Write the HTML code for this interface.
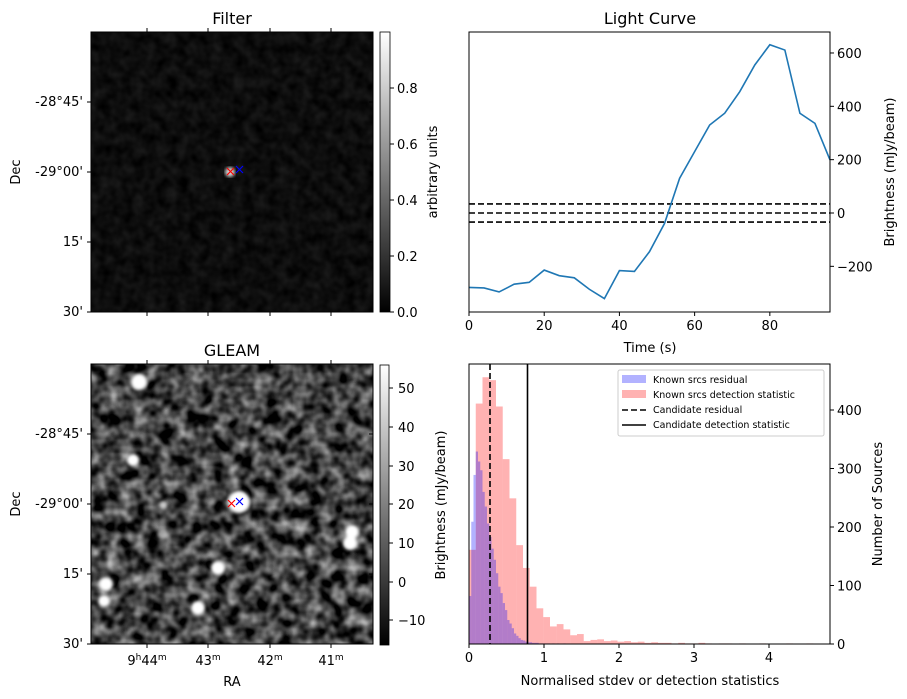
<!DOCTYPE html>
<html><head><meta charset="utf-8"><style>
body{margin:0;background:#fff}
svg{display:block;font-family:"DejaVu Sans","Liberation Sans",sans-serif}
</style></head><body>
<svg id="fig" width="907" height="699" viewBox="0 0 907 699">
<defs>
<filter id="noiseG" x="0" y="0" width="100%" height="100%" color-interpolation-filters="sRGB">
<feTurbulence type="fractalNoise" baseFrequency="0.075" numOctaves="2" seed="7"/>
<feColorMatrix type="matrix" values="1.25 0 0 0 -0.37  1.25 0 0 0 -0.37  1.25 0 0 0 -0.37  0 0 0 0 1"/>
</filter>
<filter id="noiseF" x="0" y="0" width="100%" height="100%" color-interpolation-filters="sRGB">
<feTurbulence type="fractalNoise" baseFrequency="0.09" numOctaves="2" seed="3"/>
<feColorMatrix type="matrix" values="0.15 0 0 0 -0.025  0.15 0 0 0 -0.025  0.15 0 0 0 -0.025  0 0 0 0 1"/>
</filter>
<filter id="blur2"><feGaussianBlur stdDeviation="1.5"/></filter>
<linearGradient id="cbg" x1="0" y1="1" x2="0" y2="0"><stop offset="0" stop-color="#000"/><stop offset="1" stop-color="#fff"/></linearGradient>
</defs>

<g>
<text x="232" y="24" font-size="16" text-anchor="middle">Filter</text>
<rect x="91" y="32" width="282" height="280" fill="#000" filter="url(#noiseF)"/>
<circle cx="230" cy="172" r="5" fill="#fff" filter="url(#blur2)" opacity="0.8"/>
<g stroke-width="1.2"><path d="M227 168l7 7M234 168l-7 7" stroke="#f00"/><path d="M236 166l7 7M243 166l-7 7" stroke="#00f"/></g>
<rect x="91" y="32" width="282" height="280" fill="none" stroke="#000"/>
<g font-size="13" text-anchor="end">
<text x="83" y="106">-28°45'</text><text x="83" y="176">-29°00'</text><text x="83" y="246">15'</text><text x="83" y="316">30'</text>
</g>
<g stroke="#000"><path d="M87 102h4M87 172h4M87 242h4M87 312h4M373 102h-4M373 172h-4M373 242h-4M147 32v-4M208 32v-4M270 32v-4M331 32v-4M147 312v4M208 312v4M270 312v4M331 312v4"/></g>
<text x="20" y="172" font-size="13" text-anchor="middle" transform="rotate(-90 20 172)">Dec</text>
<rect x="380" y="32" width="10" height="280" fill="url(#cbg)" stroke="#000" stroke-width="0.8"/>
<g font-size="13">
<path d="M390 312h4M390 256h4M390 200h4M390 144h4M390 88h4" stroke="#000"/>
<text x="397" y="317">0.0</text><text x="397" y="261">0.2</text><text x="397" y="205">0.4</text><text x="397" y="149">0.6</text><text x="397" y="93">0.8</text>
</g>
<text x="437" y="172" font-size="13" text-anchor="middle" transform="rotate(-90 437 172)">arbitrary units</text>
</g>

<g>
<text x="232" y="356" font-size="16" text-anchor="middle">GLEAM</text>
<rect x="91" y="364" width="282" height="280" fill="#000" filter="url(#noiseG)"/>
<g fill="#fff" filter="url(#blur2)">
<circle cx="139" cy="382" r="8"/><circle cx="201" cy="370" r="3" opacity="0.5"/><circle cx="133" cy="460" r="6"/><circle cx="163" cy="505" r="4" opacity="0.7"/><circle cx="239" cy="502" r="11"/><circle cx="163" cy="534" r="5" opacity="0.5"/><circle cx="218" cy="568" r="7"/><circle cx="106" cy="584" r="7"/><circle cx="104" cy="601" r="6"/><circle cx="198" cy="608" r="7"/><circle cx="352" cy="532" r="7"/><circle cx="350" cy="543" r="7"/><circle cx="276" cy="575" r="4" opacity="0.5"/>
</g>
<g stroke-width="1.2"><path d="M228 500l7 7M235 500l-7 7" stroke="#f00"/><path d="M236 498l7 7M243 498l-7 7" stroke="#00f"/></g>
<rect x="91" y="364" width="282" height="280" fill="none" stroke="#000"/>
<g stroke="#000"><path d="M87 434h4M87 504h4M87 574h4M87 644h4M373 434h-4M373 504h-4M373 574h-4M147 364v-4M208 364v-4M270 364v-4M331 364v-4M147 644v4M208 644v4M270 644v4M331 644v4"/></g>
<g font-size="13" text-anchor="end">
<text x="83" y="438">-28°45'</text><text x="83" y="508">-29°00'</text><text x="83" y="578">15'</text><text x="83" y="648">30'</text>
</g>
<g font-size="13" text-anchor="middle">
<text x="147" y="665">9<tspan font-size="9" dy="-5">h</tspan><tspan dy="5">44</tspan><tspan font-size="9" dy="-5">m</tspan></text>
<text x="208" y="665">43<tspan font-size="9" dy="-5">m</tspan></text>
<text x="270" y="665">42<tspan font-size="9" dy="-5">m</tspan></text>
<text x="331" y="665">41<tspan font-size="9" dy="-5">m</tspan></text>
</g>
<text x="232" y="686" font-size="13" text-anchor="middle">RA</text>
<text x="20" y="504" font-size="13" text-anchor="middle" transform="rotate(-90 20 504)">Dec</text>
<rect x="380" y="365" width="9" height="280" fill="url(#cbg)" stroke="#000" stroke-width="0.8"/>
<g font-size="13">
<path d="M389 388h4M389 427h4M389 466h4M389 504h4M389 543h4M389 582h4M389 620h4" stroke="#000"/>
<text x="398" y="393">50</text><text x="398" y="432">40</text><text x="398" y="471">30</text><text x="398" y="509">20</text><text x="398" y="548">10</text><text x="398" y="587">0</text><text x="398" y="625">−10</text>
</g>
<text x="445" y="505" font-size="13" text-anchor="middle" transform="rotate(-90 445 505)">Brightness (mJy/beam)</text>
</g>

<g id="lc">
<text x="650" y="24" font-size="16" text-anchor="middle">Light Curve</text>
<text x="650" y="352" font-size="13" text-anchor="middle">Time (s)</text>
<text x="894" y="172" font-size="13" text-anchor="middle" transform="rotate(-90 894 172)">Brightness (mJy/beam)</text>
</g>

<g id="hist">
<text x="650" y="685" font-size="13" text-anchor="middle">Normalised stdev or detection statistics</text>
<text x="882" y="504" font-size="13" text-anchor="middle" transform="rotate(-90 882 504)">Number of Sources</text>
</g>
</svg>
<script>
const times = [0,4,8,12,16,20,24,28,32,36,40,44,48,52,56,60,64,68,72,76,80,84,88,92,96];
const brightness = [-279,-281,-296,-267,-260,-214,-235,-243,-286,-321,-216,-219,-145,-39,130,230,330,374,455,555,631,611,374,336,199];
const thresholds = [34,0,-34];
const lcXTicks = [0,20,40,60,80];
const lcYTicks = [-200,0,200,400,600];

const redCounts = [161,411,456,451,406,316,249,169,130,98,61,46,30,34,25,15,17,5,7,8,5,6,4,5,3,4,2,3,2,2,1,2,1,1,2,1,0,1,1,0,1,0,0,1,0,0,0,1,0,0,1];
const redWidth = [0.09];
const blueCounts = [82,209,289,329,312,297,260,235,206,183,163,144,121,98,87,70,58,41,35,27,18,14,10,7,6,4,3,3,2,2,2,1,1,1,1,1,0,1,0,1,0,0,1];
const blueWidth = [0.03];
const candidateValues = [0.28,0.78];
const histXTicks = [0,1,2,3,4];
const histYTicks = [0,100,200,300,400];

const NS='http://www.w3.org/2000/svg';
function mk(parent,tag,attrs){const e=document.createElementNS(NS,tag);for(const k in attrs)e.setAttribute(k,attrs[k]);parent.appendChild(e);return e;}

(function(){
const g=document.getElementById('lc');
const L=469,R=830,T=32,B=312;
const xs=t=>L+(t-0)/(96-0)*(R-L);
const ys=v=>213-v*0.2667;
for(const th of thresholds){
 const l=mk(g,'line',{x1:L,x2:R,y1:ys(th),y2:ys(th),stroke:'#000','stroke-width':1.6,'stroke-dasharray':'6,3'});
 
 
}
const p=mk(g,'polyline',{points:times.map((t,i)=>xs(t)+','+ys(brightness[i])).join(' '),fill:'none',stroke:'#1f77b4','stroke-width':1.6});


mk(g,'rect',{x:L,y:T,width:R-L,height:B-T,fill:'none',stroke:'#000'});
for(const t of lcXTicks){
 mk(g,'line',{x1:xs(t),x2:xs(t),y1:B,y2:B+4,stroke:'#000'});
 const tx=mk(g,'text',{x:xs(t),y:B+18,'font-size':13,'text-anchor':'middle'});tx.textContent=t;
 
 
}
for(const v of lcYTicks){
 mk(g,'line',{x1:R,x2:R+4,y1:ys(v),y2:ys(v),stroke:'#000'});
 const tx=mk(g,'text',{x:R+7,y:ys(v)+5,'font-size':13});tx.textContent=v<0?'−'+(-v):v;
 
 
}
})();

(function(){
const g=document.getElementById('hist');
const L=469,R=830,T=364,B=644;
const xs=v=>L+v*75;
const ys=c=>B-c*0.585;
redCounts.forEach((c,i)=>{if(!c)return;const x0=xs(i*redWidth[0]),x1=xs((i+1)*redWidth[0]);
 const r=mk(g,'rect',{x:x0,y:ys(c),width:x1-x0,height:B-ys(c),fill:'rgba(255,0,0,0.3)'});
 
 });
blueCounts.forEach((c,i)=>{if(!c)return;const x0=xs(i*blueWidth[0]),x1=xs((i+1)*blueWidth[0]);
 const r=mk(g,'rect',{x:x0,y:ys(c),width:x1-x0,height:B-ys(c),fill:'rgba(0,0,255,0.3)'});
 
 });
const d=mk(g,'line',{x1:xs(candidateValues[0]),x2:xs(candidateValues[0]),y1:T,y2:B,stroke:'#000','stroke-width':1.6,'stroke-dasharray':'6,3'});


const s=mk(g,'line',{x1:xs(candidateValues[1]),x2:xs(candidateValues[1]),y1:T,y2:B,stroke:'#000','stroke-width':1.6});


mk(g,'rect',{x:L,y:T,width:R-L,height:B-T,fill:'none',stroke:'#000'});
for(const t of histXTicks){
 mk(g,'line',{x1:xs(t),x2:xs(t),y1:B,y2:B+4,stroke:'#000'});
 const tx=mk(g,'text',{x:xs(t),y:B+18,'font-size':13,'text-anchor':'middle'});tx.textContent=t;
 
 
}
for(const v of histYTicks){
 mk(g,'line',{x1:R,x2:R+4,y1:ys(v),y2:ys(v),stroke:'#000'});
 const tx=mk(g,'text',{x:R+7,y:ys(v)+5,'font-size':13});tx.textContent=v;
 
 
}
const lg=mk(g,'g',{});


mk(lg,'rect',{x:618,y:370,width:206,height:66,fill:'#fff',stroke:'#ccc',rx:2});
mk(lg,'rect',{x:622,y:375,width:24,height:8,fill:'rgba(0,0,255,0.3)'});
mk(lg,'rect',{x:622,y:390,width:24,height:8,fill:'rgba(255,0,0,0.3)'});
mk(lg,'line',{x1:622,x2:646,y1:410,y2:410,stroke:'#000','stroke-width':1.6,'stroke-dasharray':'6,3'});
mk(lg,'line',{x1:622,x2:646,y1:425,y2:425,stroke:'#000','stroke-width':1.6});
const labs=['Known srcs residual','Known srcs detection statistic','Candidate residual','Candidate detection statistic'];
labs.forEach((l,i)=>{const t=mk(lg,'text',{x:653,y:383+i*15,'font-size':9.5});t.textContent=l;
 
 });
})();
</script>
</body></html>
